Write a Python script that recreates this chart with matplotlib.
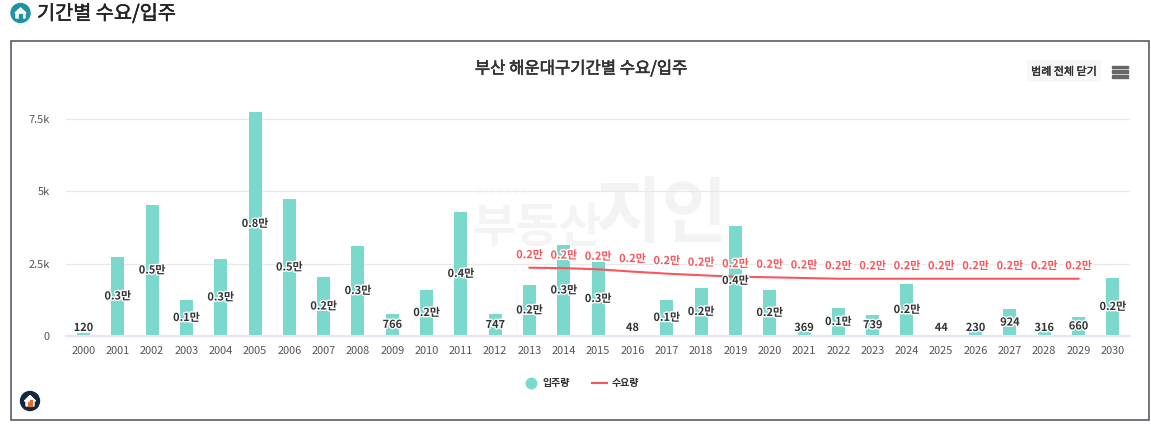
import numpy as np
import matplotlib
matplotlib.use('Agg')
import matplotlib.pyplot as plt
import matplotlib.patheffects as pe
from matplotlib.lines import Line2D
from matplotlib.patches import Rectangle, Circle, Polygon, FancyBboxPatch
from matplotlib.ticker import FuncFormatter

plt.rcParams['font.family'] = ['Noto Sans CJK KR', 'DejaVu Sans']

years = list(range(2000, 2031))
move_in = [120, 2724, 4517, 1241, 2655, 7724, 4724, 2034, 3103, 766, 1586, 4276, 747, 1760, 3138, 2550,
           48, 1250, 1655, 3793, 1586, 369, 965, 739, 1793, 44, 230, 924, 316, 660, 2000]
move_in_labels = ['120', '0.3만', '0.5만', '0.1만', '0.3만', '0.8만', '0.5만', '0.2만', '0.3만', '766', '0.2만',
                  '0.4만', '747', '0.2만', '0.3만', '0.3만', '48', '0.1만', '0.2만', '0.4만', '0.2만', '369',
                  '0.1만', '739', '0.2만', '44', '230', '924', '316', '660', '0.2만']
demand_years = list(range(2013, 2030))
demand = [2355, 2340, 2300, 2220, 2150, 2095, 2045, 2025, 2000, 1975, 1975, 1975, 1975, 1975, 1975, 1975, 1975]
demand_labels = ['0.2만'] * len(demand)
y_ticks = [0, 2500, 5000, 7500]
y_tick_labels = ['0', '2.5k', '5k', '7.5k']

W, H = 1151, 425
TEAL = '#7bd8cd'
RED = '#f9565c'
DARK = '#333333'


def fs(px):
    return px * 72 / 100


def fx(x):
    return x / W


def fy(y):
    return 1 - y / H


fig = plt.figure(figsize=(W / 100, H / 100), dpi=100)

# page header and chart frame
fig.patches.append(Rectangle((fx(11), fy(420)), 1138 / W, 379 / H, transform=fig.transFigure,
                             fill=False, ec='#4a4e5f', lw=1.1))
fig.text(fx(37), fy(14), '기간별 수요/입주', fontsize=fs(19.7), color='#222222', va='center', ha='left',
         path_effects=[pe.withStroke(linewidth=0.35, foreground='#222222')])
fig.text(fx(581), fy(69), '부산 해운대구기간별 수요/입주', fontsize=fs(16.6), color='#333333', va='center', ha='center',
         path_effects=[pe.withStroke(linewidth=0.45, foreground='#333333')])

# overlay axes in pixels for the logos, watermark and the menu
deco = fig.add_axes([0, 0, 1, 1], zorder=0)
deco.set_xlim(0, W)
deco.set_ylim(H, 0)
deco.axis('off')

deco.add_patch(Circle((20.5, 13), 9.5, color='#1f93a6'))
deco.add_patch(Polygon([(15, 13), (20.5, 8), (26, 13), (25, 13), (25, 18), (16, 18), (16, 13)], color='white'))
deco.add_patch(Rectangle((19, 14), 3, 4, color='#1f93a6'))

deco.add_patch(Circle((30, 401), 9.5, color='#13263f'))
deco.add_patch(Polygon([(24.5, 401), (30, 395.5), (35.5, 401), (34, 401), (34, 406), (26, 406), (26, 401)], color='white'))
deco.add_patch(Rectangle((28, 401.5), 1.5, 4.5, color='#e0702a'))
deco.add_patch(Rectangle((30.5, 400), 1.5, 6, color='#e0702a'))

deco.add_patch(FancyBboxPatch((1027, 60), 74, 22, boxstyle='round,pad=0,rounding_size=2', fc='#f7f7f7', ec='none'))
deco.text(1064, 72, '범례 전체 닫기', fontsize=fs(11), color='#333333', ha='center', va='center',
          path_effects=[pe.withStroke(linewidth=0.3, foreground='#333333')])
for line_y in [67, 71.7, 76.4]:
    deco.add_patch(Rectangle((1112, line_y - 1.3), 16, 2.6, color='#666666'))

# watermark
deco.text(477, 192, 'B I G D A T A', fontsize=fs(9), color='#f6f6f6', ha='left', va='center')
deco.text(472, 228, '부동산', fontsize=fs(47), color='#f4f4f4', ha='left', va='center', fontweight='bold')
deco.text(596, 216, '지인', fontsize=fs(72), color='#f3f3f3', ha='left', va='center', fontweight='bold')

# main chart
ax = fig.add_axes([fx(66.3), fy(336), (1130 - 66.3) / W, 236 / H], zorder=1)
ax.patch.set_alpha(0)
ax.bar(years, move_in, width=0.38, color=TEAL, zorder=2)
ax.plot(demand_years, demand, color=RED, lw=1.5, zorder=3)

ax.set_xlim(1999.5, 2030.5)
ax.set_ylim(0, 8138)
ax.set_xticks(years)
ax.set_xticklabels([str(y) for y in years])
ax.set_yticks(y_ticks)
ax.yaxis.set_major_formatter(FuncFormatter(lambda v, pos: y_tick_labels[y_ticks.index(int(v))]))
ax.tick_params(axis='x', length=0, labelsize=fs(11), labelcolor='#555555', pad=7.5)
ax.tick_params(axis='y', length=0, labelsize=fs(11), labelcolor='#555555', pad=12)
ax.grid(True, axis='y', color='#e8e8e8', lw=0.9, zorder=0)
ax.set_axisbelow(True)
for side in ['top', 'right', 'left']:
    ax.spines[side].set_visible(False)
ax.spines['bottom'].set_color('#e3e6f5')
ax.spines['bottom'].set_linewidth(1.5)

halo = [pe.withStroke(linewidth=2, foreground='white')]
for year, value, text in zip(years, move_in, move_in_labels):
    ax.text(year, max(value / 2, 276), text, fontsize=fs(11), color=DARK, ha='center', va='center',
            fontweight='bold', path_effects=halo, zorder=5)
for year, value, text in zip(demand_years, demand, demand_labels):
    ax.annotate(text, (year, value), xytext=(0, 9), textcoords='offset points', fontsize=fs(11),
                color=RED, ha='center', va='center', fontweight='bold', path_effects=halo, zorder=6)

handles = [Line2D([], [], marker='o', ls='none', color=TEAL, markersize=7.5),
           Line2D([], [], color=RED, lw=1.5)]
ax.legend(handles, ['입주량', '수요량'], loc='center', bbox_to_anchor=(fx(581), fy(383)),
          bbox_transform=fig.transFigure, ncol=2, frameon=False, prop={'size': fs(10), 'weight': 'bold'},
          labelcolor='#333333', handlelength=1.5, columnspacing=2.2, handletextpad=0.45)

fig.savefig('out.png', dpi=100)
